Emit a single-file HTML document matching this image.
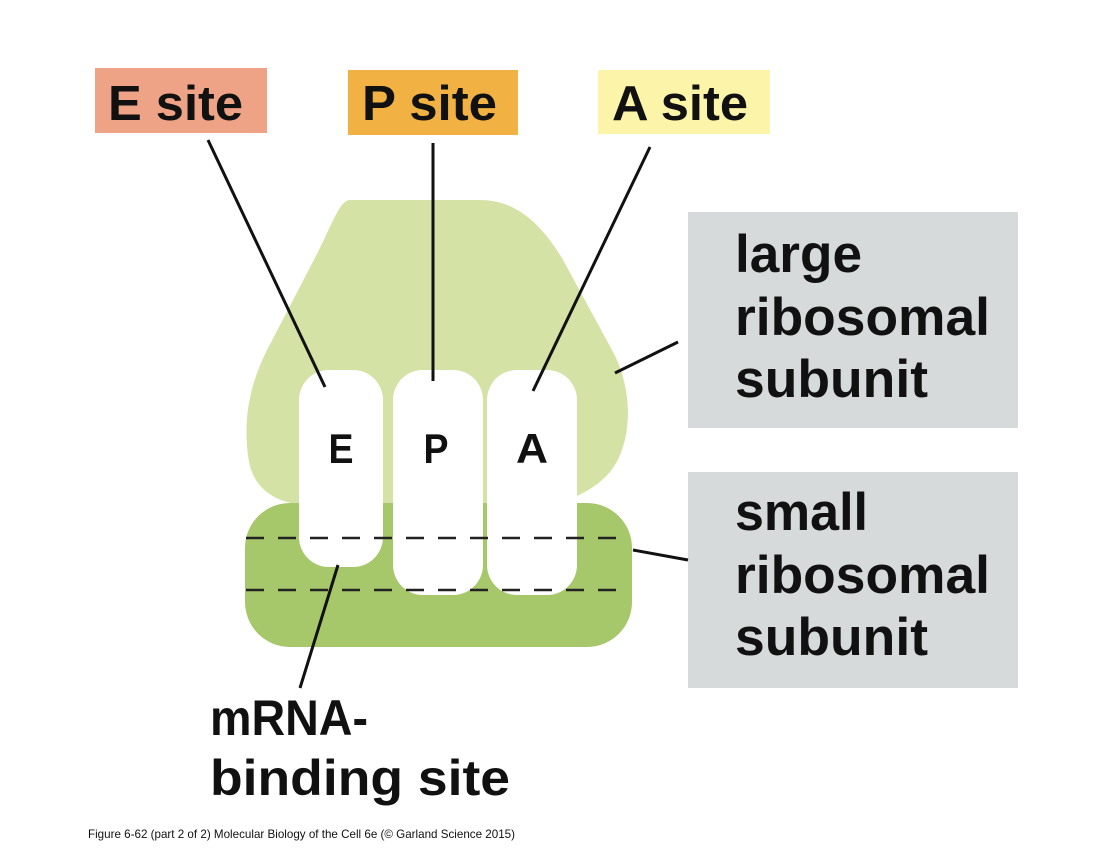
<!DOCTYPE html>
<html><head><meta charset="utf-8"><style>
html,body{margin:0;padding:0;background:#fff;}
svg{display:block;}
text{font-family:"Liberation Sans",sans-serif;font-weight:bold;fill:#111;}
</style></head><body>
<svg width="1118" height="858" viewBox="0 0 1118 858" xmlns="http://www.w3.org/2000/svg">
<rect width="1118" height="858" fill="#fff"/>
<!-- large subunit -->
<path d="M350,200 L480,200 C515,200 540,222 562,258 L612,350 C635,392 632,445 610,472 C590,495 560,505 530,505 L310,505 C280,505 255,492 249,462 C242,420 250,385 266,352 L318,252 C333,222 340,200 350,200 Z" fill="#d5e2a6"/>
<!-- small subunit -->
<rect x="245" y="503" width="387" height="144" rx="45" fill="#a7c76b"/>
<!-- slots -->
<rect x="299" y="370" width="84" height="197" rx="30" fill="#fff"/>
<rect x="393" y="370" width="90" height="225" rx="30" fill="#fff"/>
<rect x="487" y="370" width="90" height="225" rx="30" fill="#fff"/>
<!-- dashed lines -->
<line x1="246" y1="538" x2="626" y2="538" stroke="#222" stroke-width="2.5" stroke-dasharray="18,14"/>
<line x1="246" y1="590" x2="626" y2="590" stroke="#222" stroke-width="2.5" stroke-dasharray="18,14"/>
<text x="341" y="463" font-size="42" text-anchor="middle" textLength="25" lengthAdjust="spacingAndGlyphs">E</text>
<text x="436" y="463" font-size="42" text-anchor="middle" textLength="25" lengthAdjust="spacingAndGlyphs">P</text>
<text x="532" y="463" font-size="42" text-anchor="middle" textLength="32" lengthAdjust="spacingAndGlyphs">A</text>
<!-- label boxes -->
<rect x="95" y="68" width="172" height="65" fill="#efa386"/>
<rect x="348" y="70" width="170" height="65" fill="#f1b243"/>
<rect x="598" y="70" width="172" height="64" fill="#fcf4a8"/>
<text x="108" y="120" font-size="49" textLength="135" lengthAdjust="spacingAndGlyphs">E site</text>
<text x="362" y="120" font-size="49" textLength="135" lengthAdjust="spacingAndGlyphs">P site</text>
<text x="612" y="120" font-size="49" textLength="136" lengthAdjust="spacingAndGlyphs">A site</text>
<rect x="688" y="212" width="330" height="216" fill="#d6dada"/>
<rect x="688" y="472" width="330" height="216" fill="#d6dada"/>
<text x="735" y="272" font-size="53" textLength="127" lengthAdjust="spacingAndGlyphs">large</text>
<text x="735" y="335" font-size="53" textLength="255" lengthAdjust="spacingAndGlyphs">ribosomal</text>
<text x="735" y="397" font-size="53" textLength="193" lengthAdjust="spacingAndGlyphs">subunit</text>
<text x="735" y="530" font-size="53" textLength="133" lengthAdjust="spacingAndGlyphs">small</text>
<text x="735" y="593" font-size="53" textLength="255" lengthAdjust="spacingAndGlyphs">ribosomal</text>
<text x="735" y="655" font-size="53" textLength="193" lengthAdjust="spacingAndGlyphs">subunit</text>
<text x="210" y="735" font-size="50" textLength="158" lengthAdjust="spacingAndGlyphs">mRNA-</text>
<text x="210" y="795" font-size="50" textLength="300" lengthAdjust="spacingAndGlyphs">binding site</text>
<text x="88" y="838" font-size="12" style="font-weight:normal" textLength="427" lengthAdjust="spacingAndGlyphs">Figure 6-62 (part 2 of 2)  Molecular Biology of the Cell 6e (© Garland Science 2015)</text>
<!-- connectors -->
<g stroke="#111" stroke-width="3" fill="none">
<line x1="208" y1="140" x2="325" y2="387"/>
<line x1="433" y1="143" x2="433" y2="381"/>
<line x1="650" y1="147" x2="533" y2="391"/>
<line x1="678" y1="342" x2="615" y2="373"/>
<line x1="688" y1="560" x2="633" y2="550"/>
<line x1="338" y1="565" x2="300" y2="688"/>
</g>
</svg>
</body></html>
